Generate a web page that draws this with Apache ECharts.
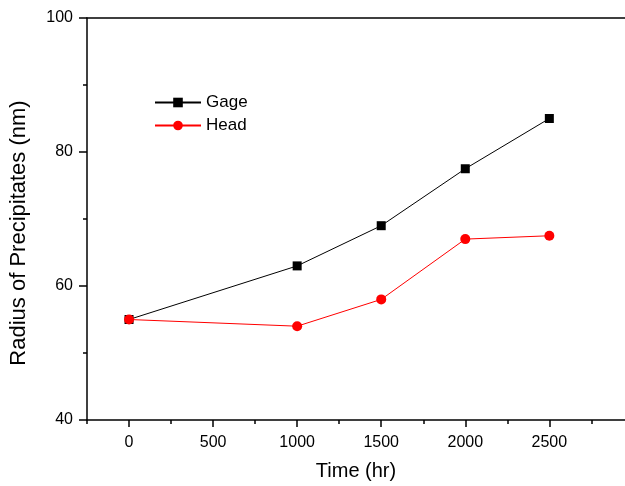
<!DOCTYPE html>
<html>
<head>
<meta charset="utf-8">
<script src="https://cdn.jsdelivr.net/npm/echarts@6/dist/echarts.min.js"></script>
<style>
  html, body { margin: 0; padding: 0; background: #fff; }
  #chart { width: 625px; height: 486px; }
</style>
</head>
<body>
<div id="chart"></div>
<script>
// Precipitate radius versus exposure time
const timeHours = [0, 1000, 1500, 2000, 2500];
const gageRadius = [55, 63, 69, 77.5, 85];
const headRadius = [55, 54, 58, 67, 67.5];
const seriesNames = ['Gage', 'Head'];
const xMajorTicks = [0, 500, 1000, 1500, 2000, 2500];
const xMinorTicks = [-250, 250, 750, 1250, 1750, 2250, 2750];

const FONT = '"Liberation Sans", Arial, sans-serif';
const X_MIN = -250, X_MAX = 2950;

const chart = echarts.init(document.getElementById('chart'), null, { renderer: 'canvas' });

const toPairs = (xs, ys) => xs.map((x, i) => [x, ys[i]]);
const axisPen = { color: '#000', width: 1.5 };

chart.setOption({
  animation: false,
  backgroundColor: '#fff',
  grid: { left: 86, top: 18, right: 0, bottom: 66, containLabel: false },
  legend: {
    left: 154,
    top: 94,
    padding: 0,
    orient: 'vertical',
    itemWidth: 46,
    itemHeight: 12,
    itemGap: 6,
    textStyle: { fontFamily: FONT, fontSize: 17, color: '#000' },
    data: seriesNames
  },
  xAxis: [
    {
      type: 'value',
      min: X_MIN,
      max: X_MAX,
      position: 'bottom',
      name: 'Time (hr)',
      nameLocation: 'middle',
      nameGap: 41,
      nameTextStyle: { fontFamily: FONT, fontSize: 20, color: '#000' },
      axisLine: { show: true, onZero: false, lineStyle: axisPen },
      axisTick: { show: true, inside: false, length: 7, lineStyle: axisPen, customValues: xMajorTicks },
      splitLine: { show: false },
      axisLabel: {
        fontFamily: FONT, fontSize: 16, color: '#000', margin: 15,
        customValues: xMajorTicks,
        formatter: v => String(v)
      }
    },
    {
      // minor ticks along the bottom axis
      type: 'value',
      min: X_MIN,
      max: X_MAX,
      position: 'bottom',
      axisLine: { show: false, onZero: false },
      axisTick: { show: true, inside: false, length: 4, lineStyle: axisPen, customValues: xMinorTicks },
      axisLabel: { show: false },
      splitLine: { show: false }
    },
    {
      // frame line along the top
      type: 'value',
      min: X_MIN,
      max: X_MAX,
      position: 'top',
      axisLine: { show: true, onZero: false, lineStyle: axisPen },
      axisTick: { show: false },
      axisLabel: { show: false },
      splitLine: { show: false }
    }
  ],
  yAxis: {
    type: 'value',
    min: 40,
    max: 100,
    interval: 20,
    name: 'Radius of Precipitates (nm)',
    nameLocation: 'middle',
    nameGap: 57,
    nameTextStyle: { fontFamily: FONT, fontSize: 22, color: '#000', padding: [0, 28, 0, 0] },
    axisLine: { show: true, onZero: false, lineStyle: axisPen },
    axisTick: { show: true, inside: false, length: 8, lineStyle: axisPen },
    minorTick: { show: true, splitNumber: 2, length: 4, lineStyle: axisPen },
    splitLine: { show: false },
    axisLabel: { fontFamily: FONT, fontSize: 16, color: '#000', margin: 14 }
  },
  series: [
    {
      name: seriesNames[0],
      type: 'line',
      xAxisIndex: 0,
      data: toPairs(timeHours, gageRadius),
      symbol: 'rect',
      symbolSize: 9,
      itemStyle: { color: '#000' },
      lineStyle: { color: '#000', width: 1 },
      z: 2
    },
    {
      name: seriesNames[1],
      type: 'line',
      xAxisIndex: 0,
      data: toPairs(timeHours, headRadius),
      symbol: 'circle',
      symbolSize: 10,
      itemStyle: { color: '#ff0000' },
      lineStyle: { color: '#ff0000', width: 1 },
      z: 3
    }
  ]
});
</script>
</body>
</html>
